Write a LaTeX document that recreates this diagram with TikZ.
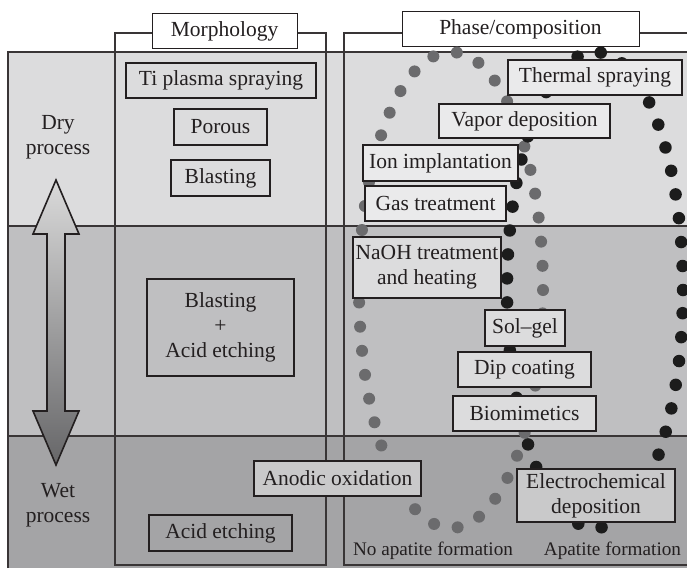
\documentclass[tikz,border=0pt]{standalone}
\usepackage{fontspec}
\setmainfont{Liberation Serif}
\usetikzlibrary{positioning}
\definecolor{dryband}{HTML}{DCDCDD}
\definecolor{midband}{HTML}{BFBFC1}
\definecolor{wetband}{HTML}{A4A4A6}
\definecolor{dotgray}{HTML}{6B6B6D}
\definecolor{dotblack}{HTML}{1C1C1C}
\definecolor{ink}{HTML}{231F20}
\definecolor{arrowtop}{HTML}{DADADA}
\definecolor{arrowbot}{HTML}{666668}

\begin{document}
\begin{tikzpicture}[x=1pt,y=-1pt,font=\fontsize{21.5}{25}\selectfont,text=ink,
  mbox/.style={draw=ink,line width=2.4pt,inner sep=0pt,align=center},
  pbox/.style={mbox,fill=dryband!60!white},
  head/.style={draw=ink,line width=1pt,fill=white,inner sep=0pt},
  frame/.style={draw=ink!90,line width=1.1pt}]
\useasboundingbox (0,0) rectangle (687,568);
\fill[dryband] (8,52) rectangle (687,226); %trocken
\fill[midband] (8,226) rectangle (687,436);
\fill[wetband] (8,436) rectangle (687,568); %nass
\draw[frame] (8,568)--(8,52)--(687,52);
\draw[frame] (8,226)--(687,226);
\draw[frame] (8,436)--(687,436);
\draw[frame] (115,33) rectangle (326,565); %Spalte links
\draw[frame] (687,33)--(344,33)--(344,565)--(687,565); %Spalte rechts
\node[head,minimum width=145pt,minimum height=35pt] (morph) at (224.5,31) {Morphology};
\node[head,minimum width=237pt,minimum height=35pt] (phase) at (520.5,29) {Phase/composition};
% Punkte
\draw[dotgray,line width=12pt,line cap=round,dash pattern=on 0pt off 24.2pt] (451,290) ellipse [x radius=92pt,y radius=238pt];
\draw[dotblack,line width=12.5pt,line cap=round,dash pattern=on 0pt off 24pt] (595,290) ellipse [x radius=88pt,y radius=238pt];
% Pfeil
\shade[top color=arrowtop,bottom color=arrowbot,draw=ink,line width=1.6pt] (56,180)--(79,234)--(65,234)--(65,411)--(79,411)--(56,465)--(33,411)--(47,411)--(47,234)--(33,234)--cycle;
\node[align=center] (dry) at (58,137) {Dry\\process};
\node[align=center] (wet) at (58,505) {Wet\\process};
% Morphologie
\node[mbox,minimum width=190pt,minimum height=35pt] (tips) at (221,80.5) {Ti plasma spraying};
\node[mbox,minimum width=93pt,minimum height=36pt] (porous) at (220.5,127) {Porous};
\node[mbox,minimum width=99pt,minimum height=36pt] (blast) at (220.5,178) {Blasting};
\node[mbox,line width=2pt,minimum width=147pt,minimum height=97pt] (blastacid) at (220.5,327.5) {Blasting\\+\\Acid etching};
\node[mbox,minimum width=143pt,minimum height=36pt] (acid) at (220.5,533) {Acid etching};
\node[pbox,fill=midband!85!white,minimum width=167pt,minimum height=35pt] (anodic) at (337.5,478.5) {Anodic oxidation};
% Phase
\node[pbox,minimum width=174pt,minimum height=35pt] (thermal) at (595,77.5) {Thermal spraying};
\node[pbox,minimum width=171pt,minimum height=34pt] (vapor) at (524.5,121) {Vapor deposition};
\node[pbox,minimum width=155pt,minimum height=36pt] (ion) at (440.5,163) {Ion implantation};
\node[pbox,minimum width=141pt,minimum height=35pt] (gas) at (435.5,203.5) {Gas treatment};
\node[pbox,fill=dryband,minimum width=148pt,minimum height=61pt] (naoh) at (427,267.5) {NaOH treatment\\and heating};
\node[pbox,fill=dryband,minimum width=80pt,minimum height=36pt] (solgel) at (525,328) {Sol--gel};
\node[pbox,fill=dryband,minimum width=133pt,minimum height=35pt] (dip) at (524.5,369.5) {Dip coating};
\node[pbox,fill=dryband,minimum width=143pt,minimum height=35pt] (bio) at (524.5,413.5) {Biomimetics};
\node[pbox,fill=midband!85!white,minimum width=158pt,minimum height=53pt] (electro) at (596,495.5) {Electrochemical\\deposition};
\node[font=\fontsize{19.2}{20}\selectfont] (noapatite) at (433,551) {No apatite formation};
\node[font=\fontsize{19.2}{20}\selectfont] (apatite) at (612.5,551) {Apatite formation};
\end{tikzpicture}
\end{document}
